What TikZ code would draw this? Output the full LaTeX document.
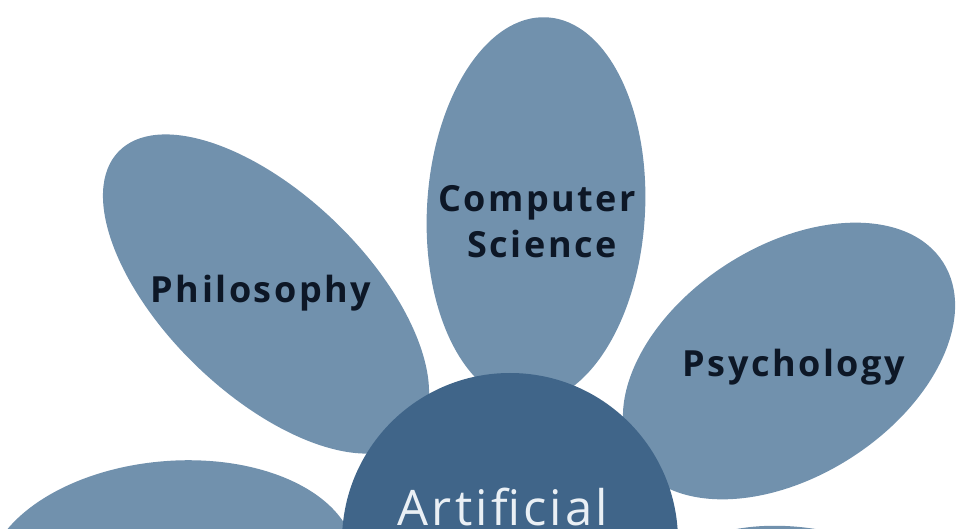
\documentclass[tikz,border=0pt]{standalone}
\usepackage{fontspec}
\setmainfont{Open Sans}
\newfontfamily\petalfont[LetterSpace=7]{Open Sans Bold}
\newfontfamily\centerfont[LetterSpace=6.5]{Open Sans}
\definecolor{petalblue}{HTML}{7191AD}
\definecolor{coreblue}{HTML}{406589}
\definecolor{petaltext}{HTML}{0D1726}
\definecolor{coretext}{HTML}{EAF0F5}
\tikzset{
  petal/.style={fill=petalblue},
  core/.style={fill=coreblue},
  petallabel/.style={anchor=base, text=petaltext, inner sep=0pt, font=\petalfont\fontsize{36}{42}\selectfont},
  corelabel/.style={anchor=base, text=coretext, inner sep=0pt, font=\centerfont\fontsize{49}{58}\selectfont}
}
\begin{document}
\begin{tikzpicture}[x=1pt,y=-1pt]
\useasboundingbox (0,0) rectangle (959,529);
\clip (0,0) rectangle (959,529);
% petals
\fill[petal, rotate around={86.7:(536,210)}] (536,210) ellipse [x radius=193pt, y radius=109pt];
\fill[petal, rotate around={136:(266,294)}] (266,294) ellipse [x radius=205pt, y radius=100pt];
\fill[petal, rotate around={32.7:(789,361)}] (789,361) ellipse [x radius=183pt, y radius=115pt];
\fill[petal, rotate around={185:(171,571)}] (171,571) ellipse [x radius=185pt, y radius=110pt];
\fill[petal, rotate around={-18:(829,645)}] (829,645) ellipse [x radius=185pt, y radius=110pt];
% core
\fill[core] (510,541) circle [radius=168pt];
% labels
\node[petallabel] (cs1) at (537,212) {Computer};
\node[petallabel] (cs2) at (542,258) {Science};
\node[petallabel] (phil) at (261,303) {Philosophy};
\node[petallabel] (psy) at (794,377) {Psychology};
\node[corelabel] (ai) at (503,525) {Artificial};
\end{tikzpicture}
\end{document}
